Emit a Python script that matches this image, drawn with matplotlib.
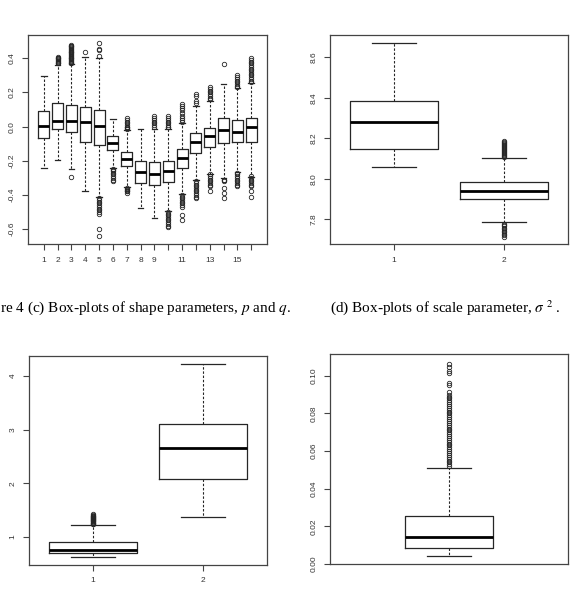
import matplotlib
matplotlib.use("Agg")
import matplotlib.pyplot as plt

plt.rcParams['font.family'] = 'Liberation Sans'
plt.rcParams['axes.unicode_minus'] = False
plt.rcParams['mathtext.fontset'] = 'stix'

W, H = 570, 600

# === (c) shape parameter p: 16 boxes ===
p_pos = list(range(1, 17))
p_med = [0.004, 0.035, 0.035, 0.025, 0.004, -0.098, -0.192, -0.268,
         -0.278, -0.258, -0.184, -0.092, -0.055, -0.020, -0.030, -0.004]
p_q1 = [-0.065, -0.012, -0.034, -0.092, -0.108, -0.137, -0.231, -0.332,
        -0.342, -0.323, -0.245, -0.153, -0.118, -0.094, -0.088, -0.088]
p_q3 = [0.091, 0.140, 0.125, 0.117, 0.099, -0.057, -0.151, -0.203,
        -0.209, -0.200, -0.133, -0.040, -0.006, 0.048, 0.039, 0.048]
p_lo = [-0.245, -0.196, -0.248, -0.375, -0.410, -0.245, -0.355, -0.479,
        -0.537, -0.493, -0.395, -0.313, -0.278, -0.303, -0.268, -0.293]
p_hi = [0.296, 0.361, 0.365, 0.410, 0.400, 0.045, -0.020, -0.016,
        -0.014, -0.014, 0.019, 0.123, 0.152, 0.248, 0.224, 0.254]
p_out = [
    [],
    [0.37, 0.375, 0.38, 0.385, 0.39, 0.395, 0.40, 0.405, 0.41],
    [0.37, 0.375, 0.38, 0.385, 0.39, 0.395, 0.40, 0.405, 0.41, 0.415,
     0.42, 0.425, 0.43, 0.435, 0.44, 0.445, 0.45, 0.455, 0.46, 0.465,
     0.47, 0.475, 0.48, -0.293],
    [0.44],
    [0.415, 0.45, 0.455, 0.49, -0.42, -0.43, -0.44, -0.45, -0.46, -0.47,
     -0.48, -0.49, -0.50, -0.51, -0.60, -0.64],
    [-0.25, -0.255, -0.26, -0.27, -0.28, -0.29, -0.30, -0.31, -0.32],
    [-0.015, -0.01, -0.005, 0.0, 0.01, 0.02, 0.03, 0.04, 0.048,
     -0.36, -0.365, -0.37, -0.375, -0.38, -0.39],
    [],
    [0.0, 0.01, 0.02, 0.03, 0.04, 0.05, 0.06],
    [-0.005, 0.0, 0.01, 0.02, 0.03, 0.04, 0.05, 0.06, -0.50, -0.51,
     -0.52, -0.53, -0.54, -0.55, -0.56, -0.57, -0.58, -0.59],
    [0.03, 0.04, 0.05, 0.06, 0.08, 0.10, 0.11, 0.12, 0.13, -0.40, -0.41,
     -0.42, -0.43, -0.44, -0.45, -0.46, -0.47, -0.52, -0.55],
    [0.14, 0.15, 0.18, 0.19, -0.32, -0.33, -0.34, -0.35, -0.36, -0.37,
     -0.38, -0.39, -0.40, -0.41, -0.42],
    [0.16, 0.17, 0.18, 0.19, 0.20, 0.21, 0.22, 0.23, -0.28, -0.29, -0.30,
     -0.31, -0.32, -0.33, -0.34, -0.35, -0.38],
    [0.365, -0.31, -0.315, -0.32, -0.36, -0.39, -0.42],
    [0.23, 0.24, 0.25, 0.26, 0.27, 0.28, 0.29, 0.30, -0.27, -0.28, -0.29,
     -0.30, -0.31, -0.32, -0.33, -0.34, -0.35],
    [0.26, 0.27, 0.28, 0.29, 0.30, 0.31, 0.32, 0.33, 0.34, 0.35, 0.36,
     0.37, 0.38, 0.39, 0.40, -0.29, -0.30, -0.31, -0.32, -0.33, -0.34,
     -0.35, -0.38, -0.41],
]
p_xlabels = ['1', '2', '3', '4', '5', '6', '7', '8', '9', '', '11', '',
             '13', '', '15', '']
p_yticks = [-0.6, -0.4, -0.2, 0.0, 0.2, 0.4]

# === (d) scale parameter sigma^2: 2 boxes ===
s_med = [8.282, 7.940]
s_q1 = [8.147, 7.900]
s_q3 = [8.384, 7.983]
s_lo = [8.057, 7.784]
s_hi = [8.669, 8.101]
s_out = [
    [],
    [8.105, 8.11, 8.115, 8.12, 8.125, 8.13, 8.135, 8.14, 8.145, 8.15,
     8.155, 8.16, 8.165, 8.17, 8.175, 8.18, 8.185,
     7.778, 7.772, 7.765, 7.758, 7.75, 7.742, 7.735, 7.727, 7.72, 7.711],
]
s_yticks = [7.8, 8.0, 8.2, 8.4, 8.6]

# === bottom left: 2 boxes ===
q_med = [0.764, 2.665]
q_q1 = [0.696, 2.075]
q_q3 = [0.913, 3.112]
q_lo = [0.634, 1.373]
q_hi = [1.230, 4.224]
q_out = [
    [1.24, 1.25, 1.26, 1.27, 1.28, 1.29, 1.30, 1.31, 1.32, 1.33, 1.34,
     1.35, 1.36, 1.37, 1.38, 1.39, 1.40, 1.41, 1.42],
    [],
]
q_yticks = [1, 2, 3, 4]

# === bottom right: 1 box ===
r_med = [0.0146]
r_q1 = [0.0085]
r_q3 = [0.0256]
r_lo = [0.0043]
r_hi = [0.0510]
r_out = [
    [0.052, 0.053, 0.054, 0.055, 0.056, 0.057, 0.058, 0.059, 0.060, 0.061,
     0.062, 0.063, 0.064, 0.065, 0.066, 0.067, 0.068, 0.069, 0.070, 0.071,
     0.072, 0.073, 0.074, 0.075, 0.076, 0.077, 0.078, 0.079, 0.080, 0.081,
     0.082, 0.083, 0.084, 0.085, 0.086, 0.087, 0.088, 0.089, 0.090, 0.0915,
     0.095, 0.096, 0.1015, 0.1025, 0.1045, 0.1065],
]
r_yticks = [0.00, 0.02, 0.04, 0.06, 0.08, 0.10]


def make_stats(med, q1, q3, lo, hi, out):
    return [dict(med=m, q1=a, q3=b, whislo=l, whishi=h, fliers=f)
            for m, a, b, l, h, f in zip(med, q1, q3, lo, hi, out)]


def panel(rect_px, stats, width, xlim, ylim, yticks, yfmt, xticks, xlabels):
    l, t, r, b = rect_px
    ax = fig.add_axes([l / W, 1 - b / H, (r - l) / W, (b - t) / H])
    ink = '#262626'
    ax.bxp(stats, positions=list(range(1, len(stats) + 1)), widths=width,
           capwidths=width / 2,
           boxprops=dict(color=ink, linewidth=0.9),
           whiskerprops=dict(color=ink, linewidth=0.8, linestyle=(0, (2.2, 1.6))),
           capprops=dict(color=ink, linewidth=0.9),
           medianprops=dict(color='black', linewidth=2.0),
           flierprops=dict(marker='o', markerfacecolor='none',
                           markeredgecolor=ink, markersize=3.2,
                           markeredgewidth=0.6))
    ax.set_xlim(*xlim)
    ax.set_ylim(*ylim)
    ax.set_yticks(yticks)
    ax.set_yticklabels([yfmt.format(v) for v in yticks])
    ax.set_xticks(xticks)
    ax.set_xticklabels(xlabels)
    for s in ax.spines.values():
        s.set_color('#444444')
        s.set_linewidth(0.9)
    ax.tick_params(direction='out', length=4, width=0.8, color='#444444',
                   labelsize=6, labelcolor='#333333', pad=5)
    ax.tick_params(axis='y', labelrotation=90)
    for lab in ax.get_yticklabels():
        lab.set_verticalalignment('center')
    return ax


fig = plt.figure(figsize=(W / 100, H / 100), dpi=100)

panel((28, 35, 267, 244), make_stats(p_med, p_q1, p_q3, p_lo, p_hi, p_out),
      0.8, (-0.14, 17.14), (-0.688, 0.537), p_yticks, '{:.1f}',
      p_pos, p_xlabels)

panel((330, 35, 568, 244), make_stats(s_med, s_q1, s_q3, s_lo, s_hi, s_out),
      0.8, (0.42, 2.58), (7.677, 8.71), s_yticks, '{:.1f}',
      [1, 2], ['1', '2'])

panel((29, 356, 267, 565), make_stats(q_med, q_q1, q_q3, q_lo, q_hi, q_out),
      0.8, (0.42, 2.58), (0.478, 4.373), q_yticks, '{:d}',
      [1, 2], ['1', '2'])

panel((330, 354, 568, 564), make_stats(r_med, r_q1, r_q3, r_lo, r_hi, r_out),
      0.4, (0.46, 1.54), (0.0002, 0.1116), r_yticks, '{:.2f}',
      [], [])

# === legendas ===
fig.text(0.0, 1 - 312 / H, "re 4 (c) Box-plots of shape parameters, $p$ and $q$.",
         family='Liberation Serif', fontsize=11, ha='left', va='baseline')
fig.text(330 / W, 1 - 312 / H, "(d) Box-plots of scale parameter, $\\sigma^{\\ 2}$ .",
         family='Liberation Serif', fontsize=11, ha='left', va='baseline')

fig.savefig("out.png", dpi=100, facecolor='white')
